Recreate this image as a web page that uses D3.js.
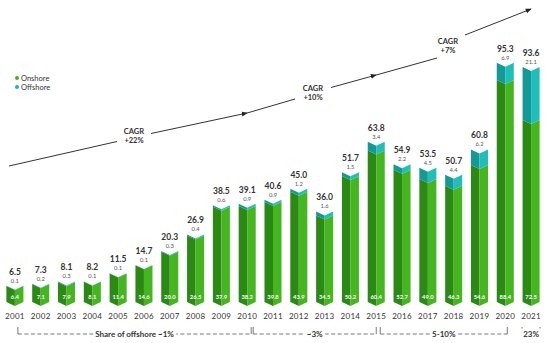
<!DOCTYPE html>
<html>
<head>
<meta charset="utf-8">
<script src="https://cdn.jsdelivr.net/npm/d3@7"></script>
<style>
  body { margin: 0; background: #fff; }
  svg { display: block; font-family: Lato, "Open Sans", sans-serif; }
</style>
</head>
<body>
<svg id="chart" width="550" height="343"></svg>
<script>
// values (GW installed per year)
const years = ['2001','2002','2003','2004','2005','2006','2007','2008','2009','2010','2011',
               '2012','2013','2014','2015','2016','2017','2018','2019','2020','2021'];
const onshore = [6.4, 7.1, 7.9, 8.1, 11.4, 14.6, 20.0, 26.5, 37.9, 38.2, 39.8,
                 43.9, 34.5, 50.2, 60.4, 52.7, 49.0, 46.3, 54.6, 88.4, 72.5];
const offshore = [0.1, 0.2, 0.3, 0.1, 0.1, 0.1, 0.3, 0.4, 0.6, 0.9, 0.9,
                  1.2, 1.6, 1.5, 3.4, 2.2, 4.5, 4.4, 6.2, 6.9, 21.1];
const totals = ['6.5','7.3','8.1','8.2','11.5','14.7','20.3','26.9','38.5','39.1','40.6',
                '45.0','36.0','51.7','63.8','54.9','53.5','50.7','60.8','95.3','93.6'];
const cagrLabels = ['+22%', '+10%', '+7%'];
const shareLabels = ['Share of offshore ~1%', '~3%', '5-10%', '23%'];

const svg = d3.select('#chart');
const base = 302;
const notch = 4;

const x = d3.scaleBand().domain(years).range([2, 544]).paddingInner(0.34).paddingOuter(0.17);
const y = d3.scaleLinear().domain([0, 100]).range([base, base - 251]);

const rows = years.map((yr, i) => ({ year: yr, onshore: onshore[i], offshore: offshore[i], total: totals[i] }));
const stack = d3.stack().keys(['onshore', 'offshore'])(rows);

const colors = {
  onshore: ['#2b8a14', '#45b520'],
  offshore: ['#149a96', '#20bdb9']
};

// chevron halves of one stacked segment
function half(d, side) {
  const x0 = x(d.data.year), w = x.bandwidth(), xc = x0 + w / 2, x1 = x0 + w;
  const yt = y(d[1]), yb = y(d[0]);
  const pts = side === 0
    ? [[x0, yt], [xc, yt + notch], [xc, yb + notch], [x0, yb]]
    : [[xc, yt + notch], [x1, yt], [x1, yb], [xc, yb + notch]];
  return 'M' + pts.map(p => p.join(',')).join('L') + 'Z';
}

const layers = svg.append('g').selectAll('g')
  .data(stack)
  .join('g');

[0, 1].forEach(side => {
  layers.selectAll('path.s' + side)
    .data(d => d.map(v => Object.assign(v, { key: d.key })))
    .join('path')
    .attr('class', 's' + side)
    .attr('d', d => half(d, side))
    .attr('fill', d => colors[d.key][side]);
});

// labels
const lab = svg.append('g').selectAll('g').data(rows).join('g')
  .attr('transform', d => `translate(${x(d.year) + x.bandwidth() / 2},0)`);

lab.append('text')
  .attr('y', d => y(d.onshore + d.offshore) - 11)
  .attr('text-anchor', 'middle')
  .attr('font-size', 8.5).attr('font-weight', 700).attr('fill', '#333')
  .text(d => d.total);

lab.append('text')
  .attr('y', d => y(d.onshore + d.offshore) - 3)
  .attr('text-anchor', 'middle')
  .attr('font-size', 5.8).attr('fill', '#555')
  .text(d => d.offshore.toFixed(1));

lab.append('text')
  .attr('y', base - 3)
  .attr('text-anchor', 'middle')
  .attr('font-size', 5.8).attr('font-weight', 700).attr('fill', '#fff')
  .text(d => d.onshore.toFixed(1));

// year axis
const xAxis = svg.append('g')
  .attr('transform', `translate(0,${base + 9})`)
  .call(d3.axisBottom(x).tickSize(0).tickPadding(2));
xAxis.select('.domain').remove();
xAxis.selectAll('text')
  .attr('font-family', 'Lato, sans-serif')
  .attr('font-size', 8).attr('fill', '#333')
  .attr('letter-spacing', 0.3);

// offshore share brackets
const cx = yr => x(yr) + x.bandwidth() / 2;
const brackets = [
  [cx('2001') + 3, cx('2010') + 4],
  [cx('2010') + 6, cx('2015')],
  [cx('2015') + 4, cx('2020') + 2],
  [cx('2021') - 9, cx('2021') + 9]
];
const by0 = 327, by1 = 334;
const br = svg.append('g').attr('stroke', '#555').attr('stroke-width', 0.8).attr('fill', 'none');
const brText = svg.append('g');
brackets.forEach(([a, b], i) => {
  br.append('path').attr('d', `M${a},${by0}V${by1}`);
  br.append('path').attr('d', `M${b},${by0}V${by1}`);
  br.append('path').attr('d', `M${a},${by1}H${b}`).attr('stroke-dasharray', '4,2.5');
  const bg = brText.append('rect').attr('fill', '#fff');
  const t = brText.append('text')
    .attr('x', (a + b) / 2).attr('y', by1 + 2.5)
    .attr('text-anchor', 'middle')
    .attr('font-size', 8).attr('font-weight', 700).attr('fill', '#333')
    .text(shareLabels[i]);
  const bb = t.node().getBBox();
  bg.attr('x', bb.x - 2).attr('y', bb.y).attr('width', bb.width + 4).attr('height', bb.height);
});

// CAGR arrow line
svg.append('defs').append('marker')
  .attr('id', 'arr').attr('viewBox', '0 0 10 10').attr('refX', 9).attr('refY', 5)
  .attr('markerWidth', 6).attr('markerHeight', 6).attr('orient', 'auto')
  .append('path').attr('d', 'M0,1L10,5L0,9Z').attr('fill', '#222');

const pieces = [
  { pts: [[9, 166], [117, 141.5]], arrow: false },
  { pts: [[151, 133.5], [cx('2010'), 113]], arrow: true },
  { pts: [[cx('2010'), 113], [295, 99]], arrow: false },
  { pts: [[331, 87.5], [cx('2015'), 75]], arrow: true },
  { pts: [[cx('2015'), 75], [437, 58]], arrow: false },
  { pts: [[465, 35], [cx('2021'), 9]], arrow: true }
];
const line = d3.line();
pieces.forEach(p => {
  svg.append('path').attr('d', line(p.pts))
    .attr('stroke', '#333').attr('stroke-width', 1).attr('fill', 'none')
    .attr('marker-end', p.arrow ? 'url(#arr)' : null);
});

const cagrPos = [[134, 135], [313, 92], [448, 45]];
cagrPos.forEach(([px, py], i) => {
  const t = svg.append('text').attr('x', px).attr('y', py)
    .attr('text-anchor', 'middle').attr('font-size', 7.5).attr('font-weight', 700).attr('fill', '#333');
  t.append('tspan').attr('x', px).attr('dy', -1).text('CAGR');
  t.append('tspan').attr('x', px).attr('dy', 9).text(cagrLabels[i]);
});

// legend
const legend = svg.append('g').attr('transform', 'translate(17,78)');
[['Onshore', '#3cb51e'], ['Offshore', '#1ab5b0']].forEach(([name, c], i) => {
  const g = legend.append('g').attr('transform', `translate(0,${i * 9})`);
  g.append('circle').attr('r', 2).attr('fill', c);
  g.append('text').attr('x', 4).attr('y', 2.8).attr('font-size', 7.5).attr('fill', '#333').text(name);
});
</script>
</body>
</html>
